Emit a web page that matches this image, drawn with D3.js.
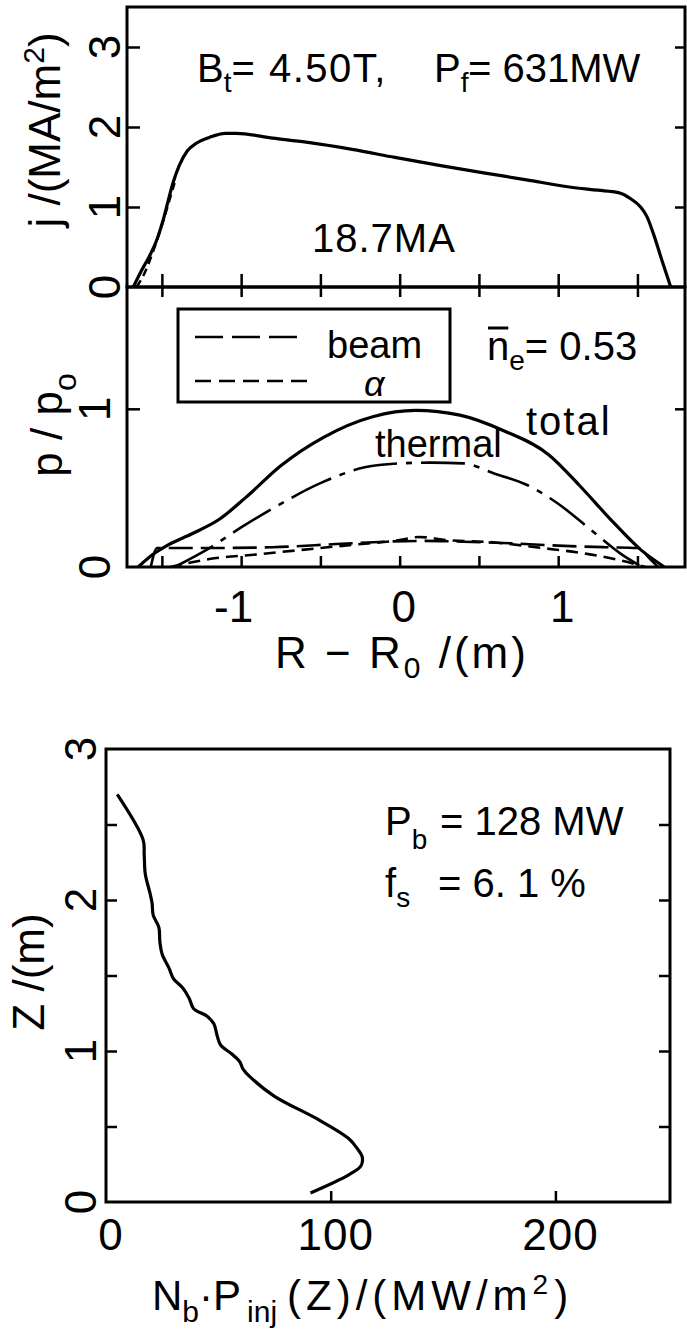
<!DOCTYPE html>
<html>
<head>
<meta charset="utf-8">
<script src="https://cdn.jsdelivr.net/npm/d3@7"></script>
<style>
  html, body { margin: 0; padding: 0; background: #fff; }
  svg { display: block; }
  text { font-family: "Liberation Sans", Arial, sans-serif; fill: #000; }
</style>
</head>
<body>
<svg id="fig" width="687" height="1332"></svg>
<script>
// ---- current density j(R) ----
const jR      = [-1.68, -1.63, -1.58, -1.53, -1.49, -1.46, -1.43, -1.39, -1.34, -1.28, -1.20, -1.10, -1.03, -0.80, -0.59, -0.30, -0.03, 0.25, 0.52, 0.80, 1.07, 1.25, 1.38, 1.46, 1.52, 1.56, 1.60, 1.65, 1.71];
const jTotal  = [0, 0.20, 0.38, 0.60, 0.85, 1.08, 1.30, 1.52, 1.70, 1.80, 1.87, 1.92, 1.92, 1.86, 1.81, 1.72, 1.62, 1.52, 1.43, 1.34, 1.25, 1.21, 1.18, 1.10, 1.00, 0.88, 0.67, 0.36, 0];
const jAltR   = [-1.66, -1.61, -1.56, -1.51, -1.48, -1.45, -1.42];
const jAlt    = [0, 0.17, 0.42, 0.71, 0.90, 1.10, 1.30];

// ---- pressure profiles p/p0 ----
const totR    = [-1.65, -1.57, -1.46, -1.31, -1.14, -0.97, -0.75, -0.48, -0.17, 0.10, 0.38, 0.66, 0.94, 1.13, 1.35, 1.52, 1.67];
const totP    = [0, 0.07, 0.14, 0.21, 0.30, 0.44, 0.64, 0.82, 0.95, 0.99, 0.96, 0.86, 0.71, 0.52, 0.28, 0.11, 0];
const thR     = [-1.42, -1.20, -1.00, -0.80, -0.50, -0.22, 0, 0.20, 0.40, 0.60, 0.80, 1.00, 1.20, 1.40, 1.53];
const thP     = [0, 0.12, 0.25, 0.37, 0.53, 0.63, 0.655, 0.66, 0.655, 0.59, 0.52, 0.40, 0.24, 0.08, 0];
const beamR   = [-1.57, -1.53, -1.20, -0.80, -0.40, -0.10, 0.15, 0.40, 0.70, 1.00, 1.30, 1.50, 1.58, 1.63];
const beamP   = [0, 0.12, 0.12, 0.125, 0.145, 0.16, 0.165, 0.16, 0.15, 0.135, 0.125, 0.12, 0.05, 0];
const alphaR  = [-1.45, -1.20, -0.90, -0.60, -0.30, 0, 0.12, 0.30, 0.60, 0.90, 1.20, 1.40, 1.55];
const alphaP  = [0, 0.05, 0.08, 0.11, 0.14, 0.17, 0.19, 0.17, 0.155, 0.12, 0.08, 0.04, 0];

// ---- injected beam power density vs height ----
const zPos    = [2.70, 2.40, 2.30, 2.17, 2.05, 1.98, 1.90, 1.82, 1.72, 1.64, 1.55, 1.48, 1.42, 1.35, 1.28, 1.23, 1.18, 1.10, 1.04, 0.98, 0.93, 0.88, 0.83, 0.70, 0.55, 0.42, 0.35, 0.30, 0.24, 0.18, 0.06];
const nbPinj  = [5, 16.5, 17, 17.5, 19.5, 20.5, 21, 23.5, 24, 25, 28, 30, 34, 37, 39, 45, 48, 49.5, 51, 56, 59.5, 61, 64, 75, 94, 108, 112, 114, 113.5, 108, 91];

// ---- tick values ----
const rTicks      = [-1.5, -1, -0.5, 0, 0.5, 1, 1.5];
const rLabels     = [-1, 0, 1];
const jTicks      = [1, 2, 3];
const jLabels     = [0, 1, 2, 3];
const pTicks      = [1];
const pLabels     = [0, 1];
const zTicks      = [0.5, 1, 1.5, 2, 2.5];
const zLabels     = [0, 1, 2, 3];
const powTicks    = [100, 200];
const powLabels   = [0, 100, 200];

const svg = d3.select("#fig");
const LW = 3;

// shared radial axis for the two upper panels
const xR = d3.scaleLinear().domain([-1.72, 1.80]).range([127, 685]);
const yJ = d3.scaleLinear().domain([0, 3.5]).range([287, 7]);
const yP = d3.scaleLinear().domain([0, 1.77]).range([567, 287]);
// lower panel
const xB = d3.scaleLinear().domain([0, 251]).range([106, 670]);
const yZ = d3.scaleLinear().domain([0, 3]).range([1202, 749]);

function styleAxis(g) {
  g.select(".domain").remove();
  g.selectAll(".tick line").attr("stroke", "#000").attr("stroke-width", 2.5);
  g.selectAll(".tick text").remove();
}

// ---------- frames ----------
const frame = svg.append("g").attr("fill", "none").attr("stroke", "#000")
  .attr("stroke-width", LW).attr("stroke-linejoin", "miter");
frame.append("rect").attr("x", xR.range()[0]).attr("y", yJ.range()[1])
  .attr("width", xR.range()[1] - xR.range()[0]).attr("height", yJ.range()[0] - yJ.range()[1]);
frame.append("rect").attr("x", xR.range()[0]).attr("y", yP.range()[1])
  .attr("width", xR.range()[1] - xR.range()[0]).attr("height", yP.range()[0] - yP.range()[1]);
frame.append("rect").attr("x", xB.range()[0]).attr("y", yZ.range()[1])
  .attr("width", xB.range()[1] - xB.range()[0]).attr("height", yZ.range()[0] - yZ.range()[1]);

// ---------- ticks ----------
// shared line between upper panels: ticks cross it
svg.append("g").attr("transform", `translate(0,${yJ(0)})`)
  .call(d3.axisTop(xR).tickValues(rTicks).tickSizeInner(13).tickSizeOuter(0)).call(styleAxis);
svg.append("g").attr("transform", `translate(0,${yJ(0)})`)
  .call(d3.axisBottom(xR).tickValues(rTicks).tickSizeInner(10).tickSizeOuter(0)).call(styleAxis);
svg.append("g").attr("transform", `translate(0,${yP(0)})`)
  .call(d3.axisTop(xR).tickValues(rTicks).tickSizeInner(11).tickSizeOuter(0)).call(styleAxis);

svg.append("g").attr("transform", `translate(${xR.range()[0]},0)`)
  .call(d3.axisRight(yJ).tickValues(jTicks).tickSizeInner(13).tickSizeOuter(0)).call(styleAxis);
svg.append("g").attr("transform", `translate(${xR.range()[1]},0)`)
  .call(d3.axisLeft(yJ).tickValues(jTicks).tickSizeInner(10).tickSizeOuter(0)).call(styleAxis);
svg.append("g").attr("transform", `translate(${xR.range()[0]},0)`)
  .call(d3.axisRight(yP).tickValues(pTicks).tickSizeInner(13).tickSizeOuter(0)).call(styleAxis);
svg.append("g").attr("transform", `translate(${xR.range()[1]},0)`)
  .call(d3.axisLeft(yP).tickValues(pTicks).tickSizeInner(10).tickSizeOuter(0)).call(styleAxis);

svg.append("g").attr("transform", `translate(${xB.range()[0]},0)`)
  .call(d3.axisRight(yZ).tickValues(zTicks).tickSizeInner(11).tickSizeOuter(0)).call(styleAxis);
svg.append("g").attr("transform", `translate(${xB.range()[1]},0)`)
  .call(d3.axisLeft(yZ).tickValues(zTicks).tickSizeInner(11).tickSizeOuter(0)).call(styleAxis);
svg.append("g").attr("transform", `translate(0,${yZ(0)})`)
  .call(d3.axisTop(xB).tickValues(powTicks).tickSizeInner(11).tickSizeOuter(0)).call(styleAxis);

// ---------- tick labels ----------
const TF = 44;
function yLabels(vals, scale, x) {
  svg.append("g").selectAll("text").data(vals).join("text")
    .attr("transform", d => `translate(${x},${scale(d)}) rotate(-90)`)
    .attr("text-anchor", "middle").attr("font-size", TF)
    .text(d => d);
}
yLabels(jLabels, yJ, 120);
yLabels(pLabels, yP, 110);
yLabels(zLabels, yZ, 96);

svg.append("g").selectAll("text").data(rLabels).join("text")
  .attr("x", d => d < 0 ? xR(d) + 12 : xR(d) + 4)
  .attr("y", 622)
  .attr("text-anchor", d => d < 0 ? "end" : "middle")
  .attr("font-size", TF)
  .text(d => d < 0 ? "-" + Math.abs(d) : d);

svg.append("g").selectAll("text").data(powLabels).join("text")
  .attr("x", d => xB(d) + 5)
  .attr("y", 1250)
  .attr("text-anchor", "middle")
  .attr("font-size", TF)
  .attr("letter-spacing", 1)
  .text(d => d);

// ---------- curves ----------
const lineJ = d3.line().x(d => xR(d[0])).y(d => yJ(d[1])).curve(d3.curveMonotoneX);
const lineP = d3.line().x(d => xR(d[0])).y(d => yP(d[1])).curve(d3.curveMonotoneX);
const lineZ = d3.line().x(d => xB(d[0])).y(d => yZ(d[1])).curve(d3.curveCatmullRom.alpha(0.5));

const curves = svg.append("g").attr("fill", "none").attr("stroke", "#000")
  .attr("stroke-linecap", "butt").attr("stroke-linejoin", "round");

curves.append("path").attr("d", lineJ(d3.zip(jAltR, jAlt)))
  .attr("stroke-width", 2.5).attr("stroke-dasharray", "8,5");
curves.append("path").attr("d", lineJ(d3.zip(jR, jTotal))).attr("stroke-width", 3.2);

curves.append("path").attr("d", lineP(d3.zip(totR, totP))).attr("stroke-width", 3.2);
curves.append("path").attr("d", lineP(d3.zip(thR, thP)))
  .attr("stroke-width", 2.6).attr("stroke-dasharray", "44,9,6,9");
curves.append("path").attr("d", lineP(d3.zip(beamR, beamP)))
  .attr("stroke-width", 2.6).attr("stroke-dasharray", "24,8");
curves.append("path").attr("d", lineP(d3.zip(alphaR, alphaP)))
  .attr("stroke-width", 2.6).attr("stroke-dasharray", "12,7");

curves.append("path").attr("d", lineZ(d3.zip(nbPinj, zPos))).attr("stroke-width", 3.2);

// ---------- legend ----------
const leg = svg.append("g");
leg.append("rect").attr("x", 178).attr("y", 309).attr("width", 272).attr("height", 93)
  .attr("fill", "none").attr("stroke", "#000").attr("stroke-width", LW);
leg.append("line").attr("x1", 195).attr("x2", 305).attr("y1", 337).attr("y2", 337)
  .attr("stroke", "#000").attr("stroke-width", 2.6).attr("stroke-dasharray", "28,9");
leg.append("line").attr("x1", 195).attr("x2", 312).attr("y1", 381).attr("y2", 381)
  .attr("stroke", "#000").attr("stroke-width", 2.6).attr("stroke-dasharray", "16,8");
leg.append("text").attr("x", 327).attr("y", 358).attr("font-size", 38).text("beam");
leg.append("text").attr("x", 364).attr("y", 396).attr("font-size", 36)
  .attr("font-style", "italic").text("α");

// ---------- annotations ----------
const AF = 40, SF = 28;
const t1 = svg.append("text").attr("y", 82).attr("font-size", AF);
t1.append("tspan").attr("x", 197).text("B");
t1.append("tspan").attr("dy", 10).attr("font-size", SF).text("t");
t1.append("tspan").attr("dy", -10).attr("letter-spacing", 1.5).text("= 4.50T,");
t1.append("tspan").attr("x", 434).text("P");
t1.append("tspan").attr("dy", 10).attr("font-size", SF).text("f");
t1.append("tspan").attr("dy", -10).attr("x", 468).text("= 631MW");

svg.append("text").attr("x", 312).attr("y", 252).attr("font-size", AF)
  .attr("letter-spacing", 1).text("18.7MA");

// mean density label; the bar over "n" is drawn from the glyph's extent
const t2 = svg.append("text").attr("x", 487).attr("y", 360).attr("font-size", AF);
t2.append("tspan").text("n");
t2.append("tspan").attr("dy", 10).attr("font-size", SF).text("e");
t2.append("tspan").attr("dy", -10).text("= 0.53");
{
  const node = t2.node();
  const s = node.getStartPositionOfChar(0), e = node.getEndPositionOfChar(0);
  svg.append("line").attr("x1", s.x + 1).attr("x2", e.x - 1)
    .attr("y1", s.y - 32).attr("y2", s.y - 32)
    .attr("stroke", "#000").attr("stroke-width", 3);
}

svg.append("text").attr("x", 526).attr("y", 435).attr("font-size", AF)
  .attr("letter-spacing", 2).text("total");
svg.append("text").attr("x", 375).attr("y", 457).attr("font-size", 38).text("thermal");

const t3 = svg.append("text").attr("x", 385).attr("y", 835).attr("font-size", AF);
t3.append("tspan").text("P");
t3.append("tspan").attr("dy", 14).attr("font-size", SF).text("b");
t3.append("tspan").attr("dy", -14).attr("x", 440).text("= 128 MW");
const t4 = svg.append("text").attr("x", 385).attr("y", 897).attr("font-size", AF);
t4.append("tspan").text("f");
t4.append("tspan").attr("dy", 10).attr("font-size", SF).text("s");
t4.append("tspan").attr("dy", -10).attr("x", 438).text("= 6. 1 %");

// ---------- axis titles ----------
const jt = svg.append("text").attr("transform", "translate(60,130) rotate(-90)")
  .attr("text-anchor", "middle").attr("font-size", 44);
jt.append("tspan").text("j /(MA/m");
jt.append("tspan").attr("dy", -16).attr("font-size", 30).text("2");
jt.append("tspan").attr("dy", 16).text(")");

const pt = svg.append("text").attr("transform", "translate(62,425) rotate(-90)")
  .attr("text-anchor", "middle").attr("font-size", 44);
pt.append("tspan").text("p / p");
pt.append("tspan").attr("dy", 14).attr("font-size", 32).text("o");

const rt = svg.append("text").attr("x", 402).attr("y", 668)
  .attr("text-anchor", "middle").attr("font-size", 44).attr("letter-spacing", 3);
rt.append("tspan").text("R − R");
rt.append("tspan").attr("dy", 10).attr("font-size", 30).text("0");
rt.append("tspan").attr("dy", -10).text(" /(m)");

svg.append("text").attr("transform", "translate(44,972) rotate(-90)")
  .attr("text-anchor", "middle").attr("font-size", 44).text("Z /(m)");

const bt = svg.append("text").attr("x", 152).attr("y", 1310).attr("font-size", 42);
bt.append("tspan").text("N");
bt.append("tspan").attr("dy", 12).attr("font-size", 30).text("b");
bt.append("tspan").attr("dy", -12).text("·P");
bt.append("tspan").attr("dy", 12).attr("dx", 6).attr("font-size", 30).text("inj");
bt.append("tspan").attr("dy", -12).attr("x", 287).attr("letter-spacing", 5).text("(Z)/(MW/m");
bt.append("tspan").attr("dy", -16).attr("font-size", 28).text("2");
bt.append("tspan").attr("dy", 16).attr("dx", 6).text(")");
</script>
</body>
</html>
